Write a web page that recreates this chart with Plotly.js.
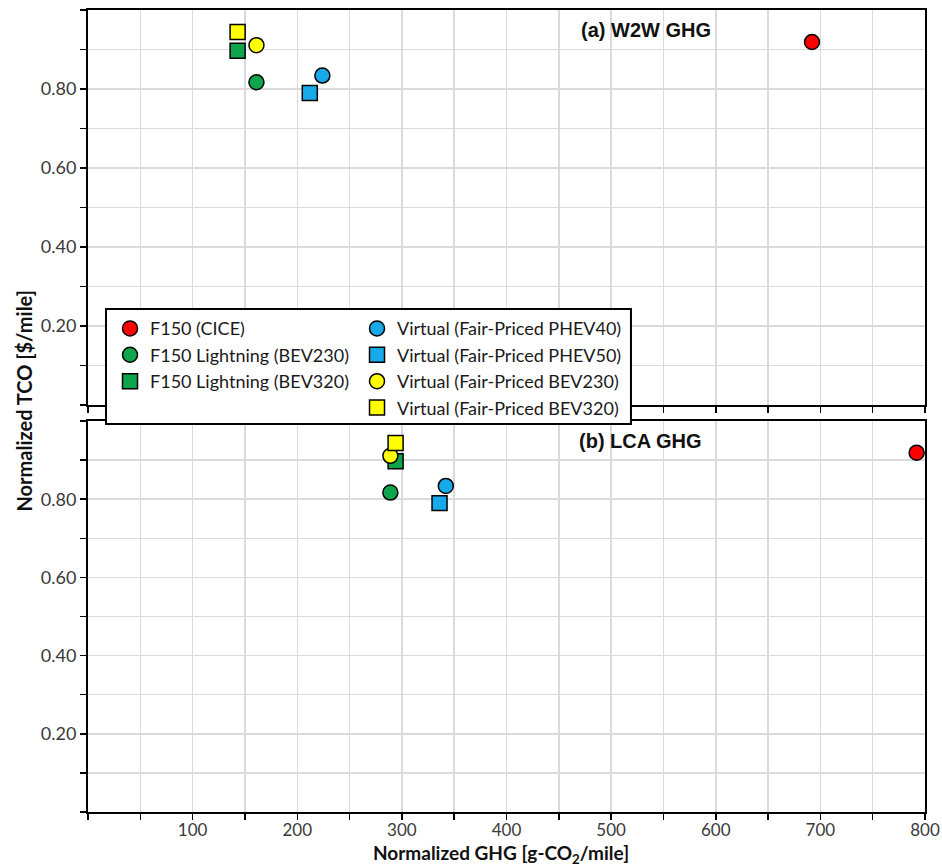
<!DOCTYPE html>
<html>
<head>
<meta charset="utf-8">
<script src="https://cdn.plot.ly/plotly-3.0.1.min.js"></script>
<style>html,body{margin:0;padding:0;background:#fff;}#chart{width:942px;height:867px;}</style>
</head>
<body>
<div id="chart"></div>
<script>
// ---- data ----
const seriesNames = [
  'F150 (CICE)',
  'F150 Lightning (BEV230)',
  'F150 Lightning (BEV320)',
  'Virtual (Fair-Priced PHEV40)',
  'Virtual (Fair-Priced PHEV50)',
  'Virtual (Fair-Priced BEV230)',
  'Virtual (Fair-Priced BEV320)'
];
const tcoPerMile = [0.919, 0.817, 0.897, 0.834, 0.790, 0.911, 0.944];
const ghgW2W = [692, 161, 143, 224, 212, 161, 143];
const ghgLCA = [792, 289, 294, 342, 336, 289, 294];
const panelTitles = ['(a) W2W GHG', '(b) LCA GHG'];
const xTickVals = [0,50,100,150,200,250,300,350,400,450,500,550,600,650,700,750,800];
const xTickText = ['','','100','','200','','300','','400','','500','','600','','700','','800'];
const yTickVals = [0,0.1,0.2,0.3,0.4,0.5,0.6,0.7,0.8,0.9,1.0];
const yTickText = ['','','0.20','','0.40','','0.60','','0.80','',''];

// ---- styles ----
const colors = ['#ff0000', '#0ea54c', '#0ea54c', '#17aaea', '#17aaea', '#ffff00', '#ffff00'];
const symbols = ['circle', 'circle', 'square', 'circle', 'square', 'circle', 'square'];
const legendOf = ['legend', 'legend', 'legend', 'legend2', 'legend2', 'legend2', 'legend2'];

const traces = [];
seriesNames.forEach((name, i) => {
  const marker = {color: colors[i], symbol: symbols[i], size: 15, line: {color: '#000', width: 1.5}};
  traces.push({
    type: 'scatter', mode: 'markers', name: name,
    x: [ghgW2W[i]], y: [tcoPerMile[i]], xaxis: 'x2', yaxis: 'y2',
    marker: marker, legend: legendOf[i], legendgroup: 'g' + i, showlegend: true
  });
  traces.push({
    type: 'scatter', mode: 'markers', name: name,
    x: [ghgLCA[i]], y: [tcoPerMile[i]], xaxis: 'x', yaxis: 'y',
    marker: marker, legendgroup: 'g' + i, showlegend: false
  });
});

const tickFont = {family: 'Lato, sans-serif', size: 18, color: '#3a3a3a'};
const xTickFont = {family: 'Lato, sans-serif', size: 17, color: '#3a3a3a'};
const gridColor = '#dadada';

function xAxis(extra) {
  return Object.assign({
    range: [0, 800], tickmode: 'array', tickvals: xTickVals, ticktext: xTickText,
    ticks: 'outside', ticklen: 6, tickwidth: 1.5, tickcolor: '#000',
    showline: true, linecolor: '#000', linewidth: 2, mirror: true,
    showgrid: true, gridcolor: gridColor, gridwidth: 1.5, zeroline: false,
    tickfont: xTickFont, fixedrange: true
  }, extra);
}
function yAxis(extra) {
  return Object.assign({
    range: [0, 1.0], tickmode: 'array', tickvals: yTickVals, ticktext: yTickText,
    ticks: 'outside', ticklen: 6, tickwidth: 1.5, tickcolor: '#000',
    showline: true, linecolor: '#000', linewidth: 2, mirror: true,
    showgrid: true, gridcolor: gridColor, gridwidth: 1.5, zeroline: false,
    tickfont: tickFont, fixedrange: true
  }, extra);
}

const legendFont = {family: 'Lato, sans-serif', size: 18, color: '#1a1a1a'};
const layout = {
  width: 942, height: 867,
  margin: {l: 88, r: 17, t: 10, b: 55},
  paper_bgcolor: '#fff', plot_bgcolor: '#fff',
  showlegend: true,
  xaxis: xAxis({domain: [0, 1], anchor: 'y', ticklabelstandoff: -4}),
  yaxis: yAxis({domain: [0, 0.4875], anchor: 'x'}),
  xaxis2: xAxis({domain: [0, 1], anchor: 'y2', matches: 'x', showticklabels: false}),
  yaxis2: yAxis({domain: [0.5075, 1], anchor: 'x2'}),
  legend: {x: 0.0263, xanchor: 'left', y: 0.6257, yanchor: 'top', bgcolor: 'rgba(0,0,0,0)',
           borderwidth: 0, font: legendFont, tracegroupgap: 0, traceorder: 'normal'},
  legend2: {x: 0.3214, xanchor: 'left', y: 0.6257, yanchor: 'top', bgcolor: 'rgba(0,0,0,0)',
            borderwidth: 0, font: legendFont, tracegroupgap: 0, traceorder: 'normal'},
  shapes: [{
    type: 'rect', xref: 'paper', yref: 'paper', layer: 'above',
    x0: 0.0215, x1: 0.6487, y0: 0.4838, y1: 0.6272,
    fillcolor: '#fff', line: {color: '#000', width: 2}
  }],
  annotations: [
    {text: panelTitles[0], xref: 'paper', yref: 'paper', x: 0.6667, y: 0.975,
     xanchor: 'center', yanchor: 'middle', showarrow: false,
     font: {family: 'Liberation Sans, Arial, sans-serif', size: 20, color: '#111', weight: 'bold'}},
    {text: panelTitles[1], xref: 'paper', yref: 'paper', x: 0.66, y: 0.4626,
     xanchor: 'center', yanchor: 'middle', showarrow: false,
     font: {family: 'Liberation Sans, Arial, sans-serif', size: 20, color: '#111', weight: 'bold'}},
    {text: '<b>Normalized GHG [g-CO<sub>2</sub>/mile]</b>', xref: 'paper', yref: 'paper',
     x: 0.4934, y: -0.0518, xanchor: 'center', yanchor: 'middle', showarrow: false,
     font: {family: 'Lato, sans-serif', size: 19, color: '#111'}},
    {text: '<b>Normalized TCO [$/mile]</b>', xref: 'paper', yref: 'paper', textangle: -90,
     x: -0.077, y: 0.5125, xanchor: 'center', yanchor: 'middle', showarrow: false,
     font: {family: 'Lato, sans-serif', size: 20, color: '#111'}}
  ]
};

Plotly.newPlot('chart', traces, layout, {staticPlot: true, displayModeBar: false});
</script>
</body>
</html>
